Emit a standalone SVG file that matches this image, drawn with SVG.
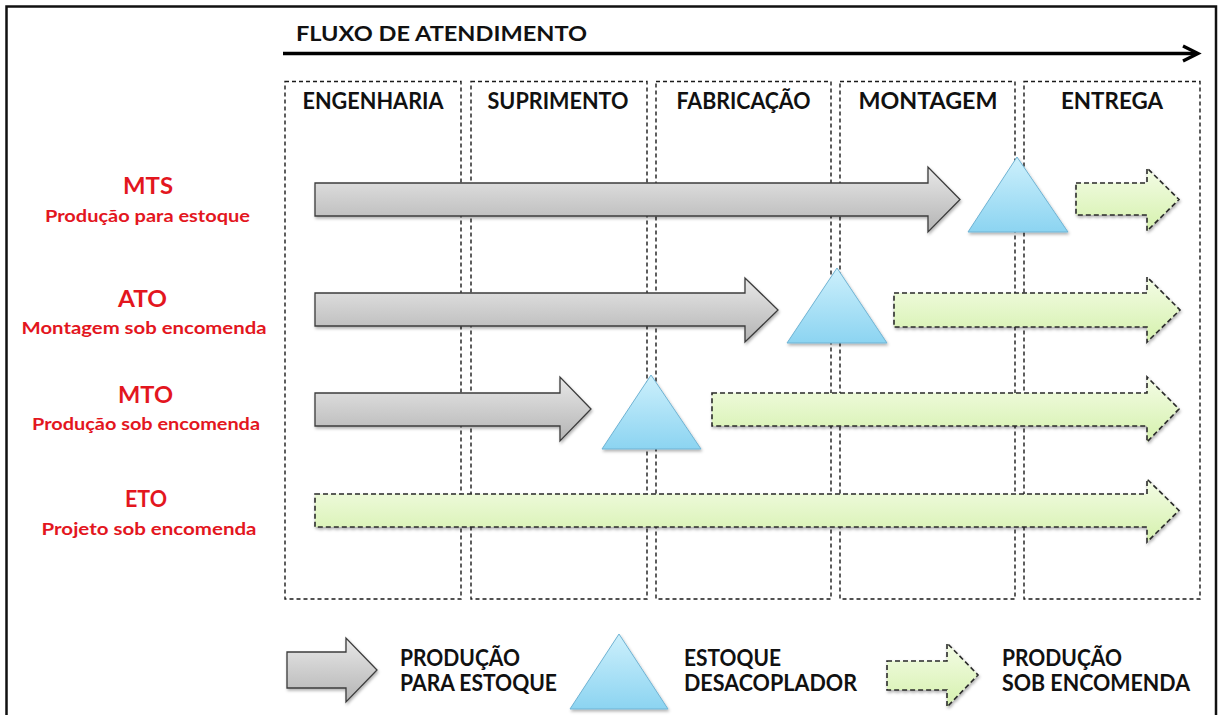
<svg xmlns="http://www.w3.org/2000/svg" width="1218" height="715" viewBox="0 0 1218 715">
  <defs>
    <linearGradient id="gGray" x1="0" y1="0" x2="0" y2="1">
      <stop offset="0" stop-color="#e8e8e8"/>
      <stop offset="1" stop-color="#b4b4b4"/>
    </linearGradient>
    <linearGradient id="gBlue" x1="0" y1="0" x2="0" y2="1">
      <stop offset="0" stop-color="#cdf0fc"/>
      <stop offset="1" stop-color="#8cd4f1"/>
    </linearGradient>
    <linearGradient id="gGreen" x1="0" y1="0" x2="0" y2="1">
      <stop offset="0" stop-color="#f4fce6"/>
      <stop offset="1" stop-color="#d5f1ad"/>
    </linearGradient>
    <filter id="sh" x="-10%" y="-20%" width="130%" height="150%">
      <feDropShadow dx="1" dy="2" stdDeviation="1.5" flood-color="#000" flood-opacity="0.3"/>
    </filter>
  </defs>
  <style>
    .col { fill: none; stroke: #1a1a1a; stroke-width: 1.4; stroke-dasharray: 4 3; }
    .hdr { font-family: Lato, "Open Sans", sans-serif; font-weight: bold; font-size: 23px; fill: #111; text-anchor: middle; }
    .ttl { font-family: Lato, "Open Sans", sans-serif; font-weight: bold; font-size: 21.5px; fill: #111; }
    .big { font-family: Lato, "Open Sans", sans-serif; font-weight: bold; font-size: 22px; fill: #e3161e; text-anchor: middle; }
    .sub { font-family: Lato, "Open Sans", sans-serif; font-weight: bold; font-size: 17px; fill: #e3161e; text-anchor: middle; }
    .leg { font-family: Lato, "Open Sans", sans-serif; font-weight: bold; font-size: 22px; fill: #111; }
    .gray { fill: url(#gGray); stroke: #3c3c3c; stroke-width: 1.3; filter: url(#sh); }
    .tri { fill: url(#gBlue); stroke: #6fb3d3; stroke-width: 1; filter: url(#sh); }
    .green { fill: url(#gGreen); stroke: #2a2a2a; stroke-width: 1.6; stroke-dasharray: 5 3; filter: url(#sh); }
  </style>
  <rect x="0" y="0" width="1218" height="715" fill="#fff"/>
  <rect x="6.5" y="6.5" width="1209.5" height="720" fill="none" stroke="#111" stroke-width="2.5"/>

  <g id="title">
    <text class="ttl" x="296" y="41" textLength="291" lengthAdjust="spacingAndGlyphs">FLUXO DE ATENDIMENTO</text>
  </g>

  <g id="connectors">
    <line x1="283" y1="53.5" x2="1196" y2="53.5" stroke="#000" stroke-width="3.3"/>
    <polyline points="1183,46 1198,53.5 1183,61" fill="none" stroke="#000" stroke-width="3.3" stroke-linejoin="miter"/>
  </g>

  <g id="columns">
    <g id="col-engenharia">
      <rect class="col" x="285" y="81.5" width="176" height="517.5"/>
      <text class="hdr" x="373" y="109" textLength="141" lengthAdjust="spacingAndGlyphs">ENGENHARIA</text>
    </g>
    <g id="col-suprimento">
      <rect class="col" x="471" y="81.5" width="176" height="517.5"/>
      <text class="hdr" x="558" y="109" textLength="141" lengthAdjust="spacingAndGlyphs">SUPRIMENTO</text>
    </g>
    <g id="col-fabricacao">
      <rect class="col" x="656" y="81.5" width="175" height="517.5"/>
      <text class="hdr" x="743.5" y="109" textLength="134" lengthAdjust="spacingAndGlyphs">FABRICAÇÃO</text>
    </g>
    <g id="col-montagem">
      <rect class="col" x="840" y="81.5" width="175" height="517.5"/>
      <text class="hdr" x="928" y="109" textLength="139" lengthAdjust="spacingAndGlyphs">MONTAGEM</text>
    </g>
    <g id="col-entrega">
      <rect class="col" x="1024" y="81.5" width="176" height="517.5"/>
      <text class="hdr" x="1112" y="109" textLength="102" lengthAdjust="spacingAndGlyphs">ENTREGA</text>
    </g>
  </g>

  <g id="row-mts">
    <text class="big" x="148" y="193.5" textLength="50" lengthAdjust="spacingAndGlyphs">MTS</text>
    <text class="sub" x="147.5" y="221.5" textLength="205" lengthAdjust="spacingAndGlyphs">Produção para estoque</text>
    <path class="gray" d="M315,183 H928 V167 L960,199.5 L928,232 V216 H315 Z"/>
    <polygon class="tri" points="1017,157 968,232 1068,232"/>
    <path class="green" d="M1076,183 H1147 V168 L1179,199.5 L1147,231 V215 H1076 Z"/>
  </g>

  <g id="row-ato">
    <text class="big" x="142.5" y="307" textLength="49" lengthAdjust="spacingAndGlyphs">ATO</text>
    <text class="sub" x="144" y="334" textLength="245" lengthAdjust="spacingAndGlyphs">Montagem sob encomenda</text>
    <path class="gray" d="M315,293 H745 V278 L778,310 L745,342 V326 H315 Z"/>
    <polygon class="tri" points="837,268 787,343 887,343"/>
    <path class="green" d="M894,293 H1147 V277 L1180,310 L1147,342 V327 H894 Z"/>
  </g>

  <g id="row-mto">
    <text class="big" x="145.5" y="403" textLength="55" lengthAdjust="spacingAndGlyphs">MTO</text>
    <text class="sub" x="146" y="430" textLength="228" lengthAdjust="spacingAndGlyphs">Produção sob encomenda</text>
    <path class="gray" d="M315,393 H560 V377 L591,409 L560,441 V426 H315 Z"/>
    <polygon class="tri" points="651,375 602,449 701,449"/>
    <path class="green" d="M712,393 H1147 V377 L1179,409 L1147,442 V426 H712 Z"/>
  </g>

  <g id="row-eto">
    <text class="big" x="146" y="507" textLength="42" lengthAdjust="spacingAndGlyphs">ETO</text>
    <text class="sub" x="149" y="535" textLength="215" lengthAdjust="spacingAndGlyphs">Projeto sob encomenda</text>
    <path class="green" d="M315,494 H1147 V479 L1179,510.5 L1147,542 V527 H315 Z"/>
  </g>

  <g id="legend-producao-estoque">
    <path class="gray" d="M287,652 H346 V638 L377,670 L346,702 V688 H287 Z"/>
    <text class="leg" x="400" y="666" textLength="120" lengthAdjust="spacingAndGlyphs">PRODUÇÃO</text>
    <text class="leg" x="400" y="691" textLength="157" lengthAdjust="spacingAndGlyphs">PARA ESTOQUE</text>
  </g>

  <g id="legend-estoque-desacoplador">
    <polygon class="tri" points="619,634 570,709 668,709"/>
    <text class="leg" x="684" y="666" textLength="97" lengthAdjust="spacingAndGlyphs">ESTOQUE</text>
    <text class="leg" x="684" y="691" textLength="173" lengthAdjust="spacingAndGlyphs">DESACOPLADOR</text>
  </g>

  <g id="legend-producao-encomenda">
    <path class="green" d="M887,661 H947 V643 L978,675 L947,707 V690 H887 Z"/>
    <text class="leg" x="1002" y="666" textLength="120" lengthAdjust="spacingAndGlyphs">PRODUÇÃO</text>
    <text class="leg" x="1002" y="691" textLength="188" lengthAdjust="spacingAndGlyphs">SOB ENCOMENDA</text>
  </g>
</svg>
